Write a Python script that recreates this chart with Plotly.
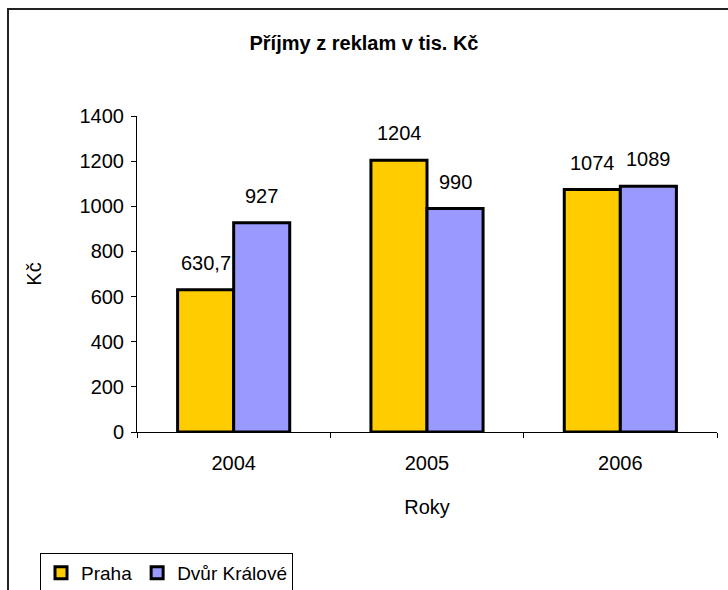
import plotly.graph_objects as go

# ── Data ───────────────────────────────────────────────
years = ["2004", "2005", "2006"]
praha = [630.7, 1204, 1074]
dvur_kralove = [927, 990, 1089]
praha_labels = ["630,7", "1204", "1074"]
dvur_labels = ["927", "990", "1089"]

_FONT = "Liberation Sans, Arial, sans-serif"
_PRAHA = "#FFCC00"
_DVUR = "#9999FF"

# plot area in pixels (728x590 canvas)
_L, _R, _T, _B = 137, 11, 116, 158
_PW = 728 - _L - _R
_PH = 590 - _T - _B


def px_x(px):
    return (px - _L) / _PW


def px_y(py):
    return (590 - _B - py) / _PH


fig = go.Figure()
fig.add_trace(
    go.Bar(
        x=years,
        y=praha,
        name="Praha",
        marker={"color": _PRAHA, "line": {"color": "black", "width": 3}},
    )
)
fig.add_trace(
    go.Bar(
        x=years,
        y=dvur_kralove,
        name="Dvůr Králové",
        marker={"color": _DVUR, "line": {"color": "black", "width": 3}},
    )
)

# value labels sitting above each bar (x given as category index)
annotations = []
for series, labels, shift in ((praha, praha_labels, -28), (dvur_kralove, dvur_labels, 28)):
    for i, (val, lab) in enumerate(zip(series, labels)):
        annotations.append(
            dict(
                x=i,
                y=val,
                text=lab,
                showarrow=False,
                xshift=shift,
                yshift=27,
                yanchor="middle",
                font={"size": 20, "color": "black", "family": _FONT},
            )
        )

# outer chart frame
shapes = [
    dict(
        type="rect",
        xref="paper",
        yref="paper",
        x0=px_x(8),
        x1=px_x(745),
        y0=px_y(610),
        y1=px_y(9),
        line={"color": "#222222", "width": 2},
        fillcolor="rgba(0,0,0,0)",
        layer="below",
    )
]

fig.update_layout(
    width=728,
    height=590,
    margin={"l": _L, "r": _R, "t": _T, "b": _B, "autoexpand": False},
    paper_bgcolor="white",
    plot_bgcolor="white",
    font={"family": _FONT, "color": "black", "size": 20},
    barmode="group",
    bargap=0.42,
    bargroupgap=0,
    title={
        "text": "<b>Příjmy z reklam v tis. Kč</b>",
        "x": 0.5,
        "xanchor": "center",
        "y": 1 - 43 / 590,
        "yanchor": "middle",
        "font": {"size": 20, "family": _FONT, "color": "black"},
    },
    xaxis={
        "type": "category",
        "range": [-0.5, len(years) - 0.5],
        "showline": True,
        "linecolor": "black",
        "linewidth": 1,
        "ticks": "outside",
        "tickson": "boundaries",
        "ticklen": 5,
        "tickcolor": "black",
        "showgrid": False,
        "tickangle": 0,
        "ticklabelstandoff": 13,
        "title": {"text": "Roky", "standoff": 26, "font": {"size": 20}},
    },
    yaxis={
        "range": [0, 1400],
        "dtick": 200,
        "tickformat": "d",
        "showline": True,
        "linecolor": "black",
        "linewidth": 1,
        "ticks": "outside",
        "ticklen": 5,
        "tickcolor": "black",
        "showgrid": False,
        "zeroline": False,
        "ticklabelstandoff": 3,
        "title": {"text": "Kč", "standoff": 32, "font": {"size": 20}},
    },
    legend={
        "orientation": "h",
        "x": px_x(40),
        "y": px_y(553),
        "xanchor": "left",
        "yanchor": "top",
        "bordercolor": "black",
        "borderwidth": 1,
        "font": {"size": 19},
        "itemwidth": 30,
        "tracegroupgap": 0,
    },
    annotations=annotations,
    shapes=shapes,
)

# drop the page's default body margin so the figure sits at the window corner
fig.write_html(
    "out.html",
    config={"displayModeBar": False},
    post_script="document.body.style.margin='0';",
)
